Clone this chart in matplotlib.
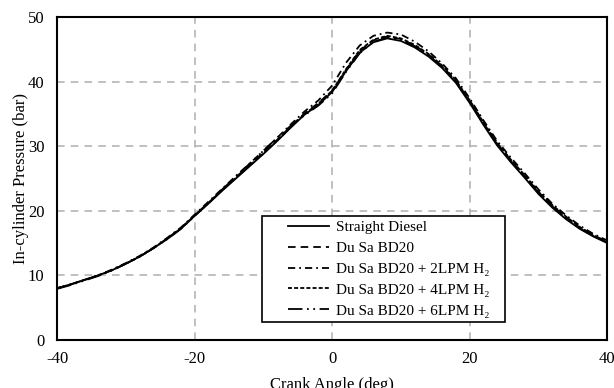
import matplotlib
matplotlib.use("Agg")
import matplotlib.pyplot as plt
from matplotlib.patches import Rectangle

plt.rcParams['font.family'] = ['Liberation Serif', 'DejaVu Serif']
plt.rcParams['axes.unicode_minus'] = False

angle = list(range(-40, 41, 2))

straight_diesel = [8.0, 8.6, 9.3, 10.0, 10.8, 11.8, 12.9, 14.2, 15.6, 17.2,
                   19.2, 21.1, 23.1, 25.0, 26.9, 28.8, 30.8, 32.9, 34.9, 36.4,
                   38.4,
                   41.6, 44.5, 46.1, 46.7, 46.3, 45.3, 43.9, 42.1, 39.8, 36.7,
                   33.3, 30.1, 27.5, 25.1, 22.6, 20.5, 18.7, 17.2, 16.0, 15.0]
du_sa_bd20 = [8.0, 8.6, 9.3, 10.0, 10.8, 11.8, 12.9, 14.2, 15.7, 17.3,
              19.3, 21.2, 23.2, 25.2, 27.1, 29.0, 31.0, 33.1, 35.1, 36.7,
              38.6,
              41.8, 44.8, 46.4, 47.0, 46.6, 45.6, 44.2, 42.4, 40.1, 37.0,
              33.6, 30.4, 27.8, 25.4, 22.9, 20.8, 19.0, 17.4, 16.2, 15.2]
bd20_2lpm = [8.0, 8.6, 9.3, 10.0, 10.9, 11.9, 13.0, 14.3, 15.8, 17.4,
             19.4, 21.4, 23.4, 25.4, 27.3, 29.3, 31.3, 33.4, 35.4, 37.1,
             39.4,
             42.9, 45.6, 47.1, 47.6, 47.3, 46.2, 44.7, 42.8, 40.5, 37.4,
             34.0, 30.8, 28.2, 25.8, 23.3, 21.1, 19.3, 17.7, 16.4, 15.4]
bd20_4lpm = [8.0, 8.6, 9.3, 10.0, 10.8, 11.8, 12.9, 14.2, 15.7, 17.3,
             19.3, 21.2, 23.2, 25.1, 27.0, 28.9, 30.9, 33.0, 35.0, 36.6,
             38.6,
             41.9, 44.9, 46.5, 47.1, 46.7, 45.7, 44.3, 42.5, 40.2, 37.1,
             33.7, 30.5, 27.9, 25.5, 23.0, 20.9, 19.1, 17.5, 16.2, 15.2]
bd20_6lpm = [7.9, 8.5, 9.2, 9.9, 10.8, 11.8, 12.9, 14.2, 15.6, 17.2,
             19.2, 21.2, 23.3, 25.3, 27.3, 29.3, 31.3, 33.2, 34.8, 36.3,
             38.2,
             41.5, 44.4, 46.2, 46.8, 46.5, 45.5, 44.1, 42.3, 40.0, 36.9,
             33.5, 30.3, 27.7, 25.3, 22.8, 20.7, 18.9, 17.3, 16.1, 15.1]

labels = ['Straight Diesel', 'Du Sa BD20', 'Du Sa BD20 + 2LPM H\u2082',
          'Du Sa BD20 + 4LPM H\u2082', 'Du Sa BD20 + 6LPM H\u2082']
series = [straight_diesel, du_sa_bd20, bd20_2lpm, bd20_4lpm, bd20_6lpm]
styles = ['-', (0, (4.2, 2.8)), (0, (4, 2.2, 1, 2.2)), (0, (2.2, 1.2)),
          (0, (8, 2.5, 1, 2.5, 1, 2.5))]

fig = plt.figure(figsize=(6.14, 3.88), dpi=100)
ax = fig.add_axes([0.093, 0.124, 0.896, 0.832])

for y, lab, ls in zip(series, labels, styles):
    ax.plot(angle, y, color='black', linestyle=ls, linewidth=1.3, label=lab,
            zorder=2)

ax.set_xlim(-40, 40)
ax.set_ylim(0, 50)
ax.set_xticks([-40, -20, 0, 20, 40])
ax.set_yticks([0, 10, 20, 30, 40, 50])
ax.grid(True, color='#b3aeae', linestyle=(0, (5, 4)), linewidth=1.1)
ax.set_axisbelow(True)
ax.tick_params(length=0, labelsize=12)
ax.tick_params(axis='y', pad=9)
ax.tick_params(axis='x', pad=8)
for s in ax.spines.values():
    s.set_linewidth(1.5)
    s.set_color('black')
    s.set_zorder(5)

ax.set_xlabel('Crank Angle (deg)', fontsize=12, labelpad=7)
ax.set_ylabel('In-cylinder Pressure (bar)', fontsize=12, labelpad=-1)

frame = Rectangle((0.373, 0.056), 0.442, 0.328, transform=ax.transAxes,
                  facecolor='white', edgecolor='black', linewidth=1.2, zorder=3)
ax.add_patch(frame)

leg = ax.legend(loc='upper left', bbox_to_anchor=(0.42, 0.37), fontsize=11,
                frameon=False, handlelength=2.7, borderpad=0, labelspacing=0.47,
                handletextpad=0.45, borderaxespad=0)
leg.set_zorder(4)

fig.savefig('out.png', dpi=100)
